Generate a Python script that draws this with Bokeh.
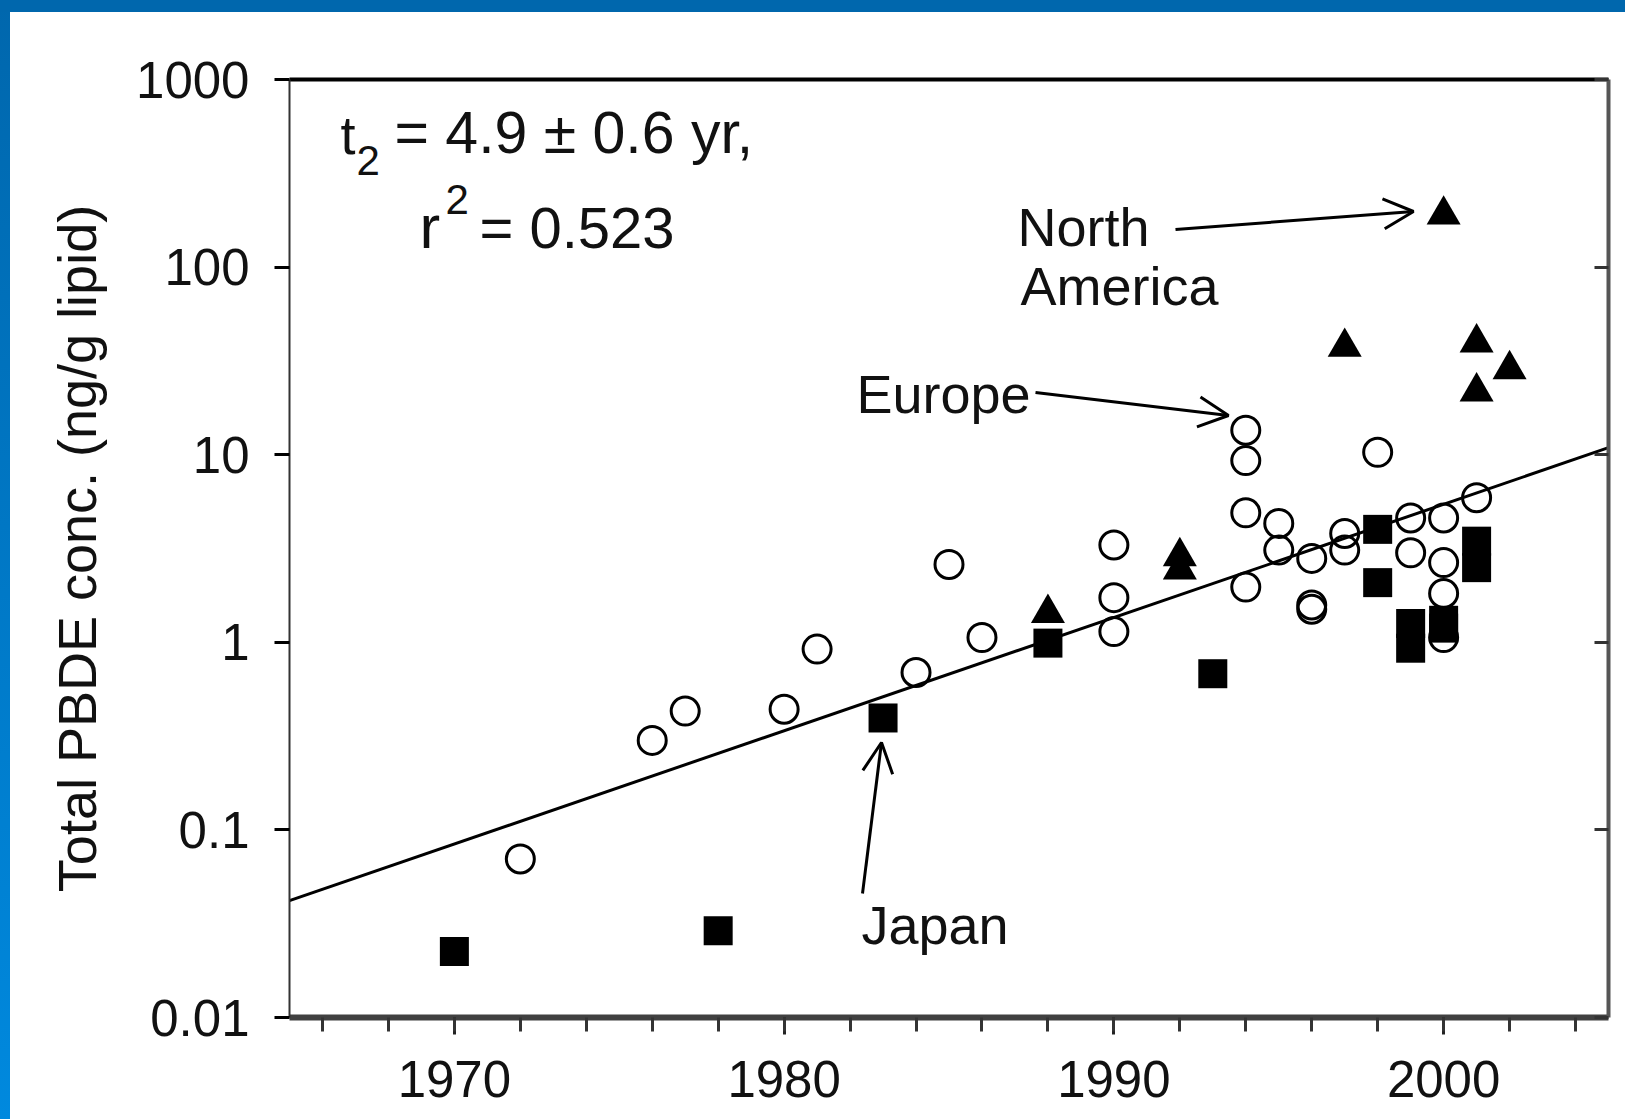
import math
from bokeh.plotting import figure
from bokeh.models import (Range1d, LinearAxis, LogAxis, FixedTicker, Arrow, OpenHead,
                          Label, CustomJSTickFormatter)
from bokeh.embed import file_html
from bokeh.resources import INLINE

# ---------------- data ----------------
europe_years = [1972, 1976, 1977, 1980, 1981, 1984, 1985, 1986,
                1990, 1990, 1990, 1994, 1994, 1994, 1994, 1995, 1995,
                1996, 1996, 1996, 1997, 1997, 1998, 1999, 1999,
                2000, 2000, 2000, 2000, 2001]
europe_values = [0.07, 0.30, 0.43, 0.44, 0.92, 0.69, 2.6, 1.06,
                 3.3, 1.73, 1.14, 13.5, 9.3, 4.9, 1.97, 4.3, 3.1,
                 2.8, 1.5, 1.58, 3.8, 3.1, 10.3, 4.6, 3.0,
                 4.6, 2.66, 1.82, 1.06, 5.9]

japan_years = [1970, 1978, 1983, 1988, 1993, 1998, 1998, 1999, 1999,
               2000, 2000, 2001, 2001]
japan_values = [0.0225, 0.029, 0.395, 0.99, 0.68, 4.0, 2.08, 1.26, 0.93,
                1.31, 1.19, 3.46, 2.5]

na_years = [1988, 1992, 1992, 1997, 2000, 2001, 2001, 2002]
na_values = [1.43, 2.87, 2.44, 37.5, 190, 39.6, 21.7, 28.5]

fit_years = [1965, 2005]
fit_values = [0.042, 10.9]

x_major_ticks = [1970, 1980, 1990, 2000]
x_minor_ticks = [1966, 1968, 1970, 1972, 1974, 1976, 1978, 1980, 1982, 1984,
                 1986, 1988, 1990, 1992, 1994, 1996, 1998, 2000, 2002, 2004]
y_ticks = [0.01, 0.1, 1, 10, 100, 1000]

FONT = "Liberation Sans"

# ---------------- layout (canvas pixels) ----------------
W, H = 1625, 1119
FL, FT, FR, FB = 289, 79, 1608, 1017      # frame edges
X0, X1, Y0, Y1 = 1965, 2005, 0.01, 1000


def xv(px):
    return X0 + (px - FL) * (X1 - X0) / (FR - FL)


def yv(px):
    dec = math.log10(Y1) - math.log10(Y0)
    return 10 ** (math.log10(Y1) - (px - FT) * dec / (FB - FT))


p = figure(width=W, height=H,
           x_range=Range1d(X0, X1), y_range=Range1d(Y0, Y1),
           y_axis_type="log", output_backend="svg", toolbar_location=None,
           min_border_left=FL, min_border_top=FT, min_border_right=W - FR,
           min_border_bottom=H - FB, x_axis_location=None, y_axis_location=None)
p.outline_line_color = None
p.xgrid.visible = False
p.ygrid.visible = False
p.background_fill_color = "white"
# transparent border area so that the slide's blue edge (host background) shows
p.border_fill_color = None
p.styles = {
    "background": ("linear-gradient(#0067ad, #0067ad) 0 0 / 100% 12px no-repeat, "
                   "linear-gradient(to bottom, #0067ad, #0089de) 0 0 / 10px 100% no-repeat, "
                   "#ffffff"),
}

fmt = CustomJSTickFormatter(code="return tick.toString();")
blank = CustomJSTickFormatter(code="return '';")

# left axis
ly = LogAxis(ticker=FixedTicker(ticks=y_ticks), formatter=fmt)
ly.axis_line_width = 2
ly.axis_line_color = "#333333"
ly.major_tick_out = 15
ly.major_tick_in = 0
ly.major_tick_line_width = 3
ly.major_tick_line_color = "black"
ly.minor_tick_line_color = None
ly.major_label_standoff = 25
ly.major_label_text_font = FONT
ly.major_label_text_font_size = "51px"
ly.major_label_text_color = "#111111"
ly.axis_label = "Total PBDE conc. (ng/g lipid)"
ly.axis_label_text_font = FONT
ly.axis_label_text_font_size = "54px"
ly.axis_label_text_font_style = "normal"
ly.axis_label_text_color = "#111111"
ly.axis_label_standoff = 26
p.add_layout(ly, "left")

# right axis (frame line with inward ticks)
ry = LogAxis(ticker=FixedTicker(ticks=y_ticks), formatter=blank)
ry.axis_line_width = 4
ry.axis_line_color = "#555555"
ry.major_tick_out = 0
ry.major_tick_in = 14
ry.major_tick_line_width = 3
ry.major_tick_line_color = "#333333"
ry.minor_tick_line_color = None
ry.major_label_standoff = 0
p.add_layout(ry, "right")

# bottom axis
bx = LinearAxis(ticker=FixedTicker(ticks=x_major_ticks, minor_ticks=x_minor_ticks))
bx.axis_line_width = 6
bx.axis_line_color = "#404040"
bx.major_tick_out = 17
bx.major_tick_in = 0
bx.major_tick_line_width = 3
bx.major_tick_line_color = "#222222"
bx.minor_tick_out = 14
bx.minor_tick_in = 0
bx.minor_tick_line_width = 3
bx.minor_tick_line_color = "#333333"
bx.major_label_standoff = 26
bx.major_label_text_font = FONT
bx.major_label_text_font_size = "51px"
bx.major_label_text_color = "#111111"
p.add_layout(bx, "below")

# top axis (frame line only)
tx = LinearAxis(ticker=FixedTicker(ticks=[]), formatter=blank)
tx.axis_line_width = 4
tx.axis_line_color = "black"
tx.major_tick_line_color = None
tx.minor_tick_line_color = None
tx.major_label_standoff = 0
p.add_layout(tx, "above")

# ---------------- data marks ----------------
p.line(fit_years, fit_values, line_color="black", line_width=3)

p.scatter(europe_years, europe_values, marker="circle", size=28,
          fill_color=None, line_color="black", line_width=3)
p.scatter(japan_years, japan_values, marker="square", size=29,
          fill_color="black", line_color=None)
p.scatter(na_years, na_values, marker="triangle", size=34,
          fill_color="black", line_color=None)


# ---------------- annotations ----------------
def lab(text, px, baseline_px, fs):
    # label anchor is the vertical centre of the text box
    cy = baseline_px - 0.3465 * fs
    p.add_layout(Label(x=xv(px), y=yv(cy), text=text, text_font=FONT,
                       text_font_size="%dpx" % fs, text_color="#111111",
                       text_baseline="alphabetic", text_align="left"))


lab("t", 340, 153, 54)
lab("2", 356, 175, 42)
lab("= 4.9 \u00b1 0.6 yr,", 394, 153, 59)
lab("r", 419, 247, 62)
lab("2", 445, 214, 42)
lab("= 0.523", 479, 247, 58)

lab("North", 1017, 245, 54)
lab("America", 1020, 304, 54)
lab("Europe", 856, 412, 54)
lab("Japan", 861, 943, 54)


def arrow(x0, y0, x1, y1):
    p.add_layout(Arrow(end=OpenHead(size=30, line_width=3, line_color="black"),
                       x_start=xv(x0), y_start=yv(y0), x_end=xv(x1), y_end=yv(y1),
                       line_width=3, line_color="black"))


arrow(1175, 229, 1413, 211)
arrow(1035, 392, 1228, 415)
arrow(862, 893, 881, 742)

open("out.html", "w").write(file_html(p, INLINE))
